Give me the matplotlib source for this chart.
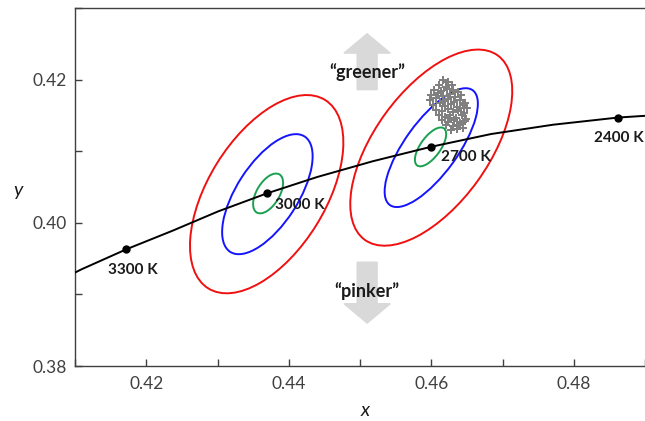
import matplotlib
matplotlib.use("Agg")
import matplotlib.pyplot as plt
from matplotlib.patches import Ellipse
from matplotlib.ticker import MultipleLocator

plt.rcParams['font.family'] = ['Lato', 'DejaVu Sans']

# planckian locus (CIE 1931 x, y), 3500 K .. 2300 K in 100 K steps
locus_x = [0.4053, 0.4109, 0.4172, 0.4237, 0.4301, 0.4369, 0.4440, 0.4518, 0.4599, 0.4684, 0.4771, 0.4862, 0.4956]
locus_y = [0.3907, 0.3935, 0.3963, 0.3989, 0.4016, 0.4041, 0.4064, 0.4086, 0.4106, 0.4124, 0.4137, 0.4147, 0.4153]

# marked temperatures
cct_labels = ["3300 K", "3000 K", "2700 K", "2400 K"]
cct_x = [0.4172, 0.4369, 0.4599, 0.4862]
cct_y = [0.3963, 0.4041, 0.4106, 0.4147]

# ellipses around 3000 K and 2700 K: green (1 step), blue, red
ell_cx = [0.4371, 0.4370, 0.4369, 0.4599, 0.4600, 0.4600]
ell_cy = [0.4041, 0.4040, 0.4040, 0.4106, 0.4105, 0.4105]
ell_a = [0.0031, 0.0096, 0.0155, 0.0032, 0.0099, 0.0159]   # semi-major
ell_b = [0.0016, 0.0043, 0.0082, 0.0014, 0.0037, 0.0080]   # semi-minor
ell_angle = [59, 57, 58, 54, 54, 54]
ell_color = ["#1aa050", "#1414ff", "#f01010", "#1aa050", "#1414ff", "#f01010"]

# measured samples (gray crosses)
samp_x = [0.4617, 0.4624, 0.4611, 0.4620, 0.4629, 0.4604, 0.4614, 0.4622, 0.4631, 0.4638,
          0.4600, 0.4609, 0.4617, 0.4627, 0.4634, 0.4642, 0.4598, 0.4607, 0.4616, 0.4623,
          0.4632, 0.4640, 0.4647, 0.4603, 0.4612, 0.4619, 0.4628, 0.4636, 0.4644, 0.4650,
          0.4607, 0.4615, 0.4623, 0.4631, 0.4638, 0.4646, 0.4611, 0.4619, 0.4627, 0.4635,
          0.4643, 0.4649, 0.4615, 0.4624, 0.4632, 0.4640, 0.4647, 0.4621, 0.4630, 0.4638,
          0.4644, 0.4628, 0.4636, 0.4625, 0.4641]
samp_y = [0.4199, 0.4196, 0.4192, 0.4190, 0.4193, 0.4186, 0.4184, 0.4187, 0.4185, 0.4182,
          0.4179, 0.4181, 0.4177, 0.4180, 0.4176, 0.4178, 0.4172, 0.4174, 0.4170, 0.4173,
          0.4169, 0.4171, 0.4168, 0.4165, 0.4167, 0.4163, 0.4166, 0.4162, 0.4164, 0.4160,
          0.4158, 0.4156, 0.4159, 0.4155, 0.4157, 0.4153, 0.4150, 0.4148, 0.4151, 0.4147,
          0.4150, 0.4145, 0.4143, 0.4141, 0.4144, 0.4140, 0.4142, 0.4137, 0.4135, 0.4136,
          0.4133, 0.4129, 0.4131, 0.4146, 0.4160]

#%%
fig = plt.figure(figsize=(6.45, 4.21), dpi=100)
ax = fig.add_axes([0.1163, 0.1306, 0.8837, 0.8504])

# greener / pinker arrows
ax.arrow(0.4510, 0.4186, 0, 0.0078, width=0.0028, head_width=0.0065, head_length=0.0027,
         length_includes_head=True, color="#d9d9d9", zorder=0)
ax.arrow(0.4510, 0.3945, 0, -0.0085, width=0.0028, head_width=0.0065, head_length=0.0027,
         length_includes_head=True, color="#d9d9d9", zorder=0)
ax.text(0.4510, 0.4211, "\u201cgreener\u201d", fontsize=13, fontweight="bold", color="#1a1a1a",
        ha="center", va="center", zorder=1)
ax.text(0.4510, 0.3905, "\u201cpinker\u201d", fontsize=13, fontweight="bold", color="#1a1a1a",
        ha="center", va="center", zorder=1)

for cx, cy, a, b, ang, c in zip(ell_cx, ell_cy, ell_a, ell_b, ell_angle, ell_color):
    ax.add_patch(Ellipse((cx, cy), 2 * a, 2 * b, angle=ang, fill=False, edgecolor=c, linewidth=1.4, zorder=2))

ax.plot(samp_x, samp_y, linestyle="none", marker="P", markersize=5.5, color="#808080",
        markeredgewidth=0, zorder=3)

ax.plot(locus_x, locus_y, color="black", linewidth=1.4, zorder=4)
ax.plot(cct_x, cct_y, linestyle="none", marker="o", markersize=5, color="black", zorder=5)

offsets = [(-18, -21), (8, -12), (10, -10), (-24, -20)]
for lab, x, y, off in zip(cct_labels, cct_x, cct_y, offsets):
    ax.annotate(lab, xy=(x, y), xytext=off, textcoords="offset pixels", fontsize=11,
                fontweight="bold", color="#1a1a1a", ha="left", va="center", zorder=6)

ax.set_xlim(0.41, 0.49)
ax.set_ylim(0.38, 0.43)
ax.xaxis.set_major_locator(MultipleLocator(0.02))
ax.xaxis.set_minor_locator(MultipleLocator(0.01))
ax.yaxis.set_major_locator(MultipleLocator(0.02))
ax.yaxis.set_minor_locator(MultipleLocator(0.01))
ax.xaxis.set_major_formatter(lambda v, p: f"{v:.2f}")
ax.yaxis.set_major_formatter(lambda v, p: f"{v:.2f}")
ax.tick_params(which="both", direction="in", length=5, width=1, color="#404040",
               labelsize=12.5, labelcolor="#404040")
ax.tick_params(axis="x", pad=7)
ax.tick_params(axis="y", pad=6)
ax.spines["right"].set_visible(False)
for s in ["left", "top", "bottom"]:
    ax.spines[s].set_color("#404040")
    ax.spines[s].set_linewidth(1)

ax.set_xlabel("x", fontsize=14, style="italic", color="#1a1a1a", va="center")
ax.set_ylabel("y", fontsize=14, style="italic", color="#1a1a1a", rotation=0, va="center")
ax.xaxis.set_label_coords(0.509, -0.123)
ax.yaxis.set_label_coords(-0.1, 0.489)

fig.savefig("out.png", dpi=100)
